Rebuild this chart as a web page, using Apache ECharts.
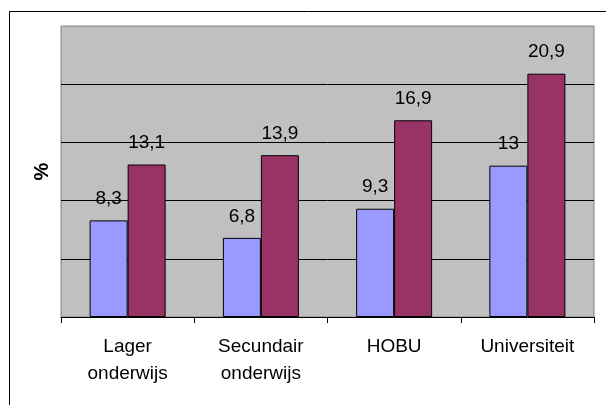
<!DOCTYPE html>
<html>
<head>
<meta charset="utf-8">
<script src="https://cdn.jsdelivr.net/npm/echarts@6/dist/echarts.min.js"></script>
<style>
  html, body { margin: 0; padding: 0; background: #fff; }
  #chart { width: 606px; height: 405px; }
</style>
</head>
<body>
<div id="chart"></div>
<script>
const categories = ['Lager\nonderwijs', 'Secundair\nonderwijs', 'HOBU', 'Universiteit']
const reeks1 = [8.3, 6.8, 9.3, 13]
const reeks2 = [13.1, 13.9, 16.9, 20.9]

const fontFamily = '"Liberation Sans", Arial, sans-serif'
const commaLabel = p => String(p.value).replace('.', ',')

const chart = echarts.init(document.getElementById('chart'))

const barLabel = {
  show: true,
  position: 'top',
  distance: 12,
  color: '#000',
  fontSize: 19,
  fontFamily: fontFamily,
  formatter: commaLabel
}

chart.setOption({
  animation: false,
  backgroundColor: '#fff',
  graphic: [{
    type: 'rect',
    shape: { x: 9.5, y: 11.5, width: 700, height: 500 },
    style: { fill: 'none', stroke: '#000', lineWidth: 1 },
    silent: true,
    z: -10
  }],
  grid: {
    left: 61,
    right: 12,
    top: 26,
    bottom: 88,
    show: true,
    backgroundColor: '#C0C0C0',
    borderColor: '#808080',
    borderWidth: 1
  },
  xAxis: {
    type: 'category',
    data: categories,
    axisLine: { lineStyle: { color: '#000', width: 1 } },
    axisTick: { show: true, length: 6, lineStyle: { color: '#000' } },
    axisLabel: {
      color: '#000',
      fontSize: 19,
      fontFamily: fontFamily,
      lineHeight: 27,
      margin: 16
    }
  },
  yAxis: {
    type: 'value',
    min: 0,
    max: 25,
    interval: 5,
    name: '%',
    nameLocation: 'middle',
    nameGap: 9,
    nameTextStyle: { color: '#000', fontSize: 20, fontWeight: 'bold', fontFamily: fontFamily },
    axisLine: { show: false },
    axisTick: { show: false },
    axisLabel: { show: false },
    splitLine: {
      show: true,
      showMinLine: false,
      showMaxLine: false,
      lineStyle: { color: '#000', width: 1 }
    }
  },
  series: [
    {
      name: 'Reeks 1',
      type: 'bar',
      data: reeks1,
      barWidth: 38,
      barGap: '0%',
      itemStyle: { color: '#9999FF', borderColor: '#000', borderWidth: 1 },
      label: barLabel
    },
    {
      name: 'Reeks 2',
      type: 'bar',
      data: reeks2,
      barWidth: 38,
      barGap: '0%',
      itemStyle: { color: '#993366', borderColor: '#000', borderWidth: 1 },
      label: barLabel
    }
  ]
})
</script>
</body>
</html>
